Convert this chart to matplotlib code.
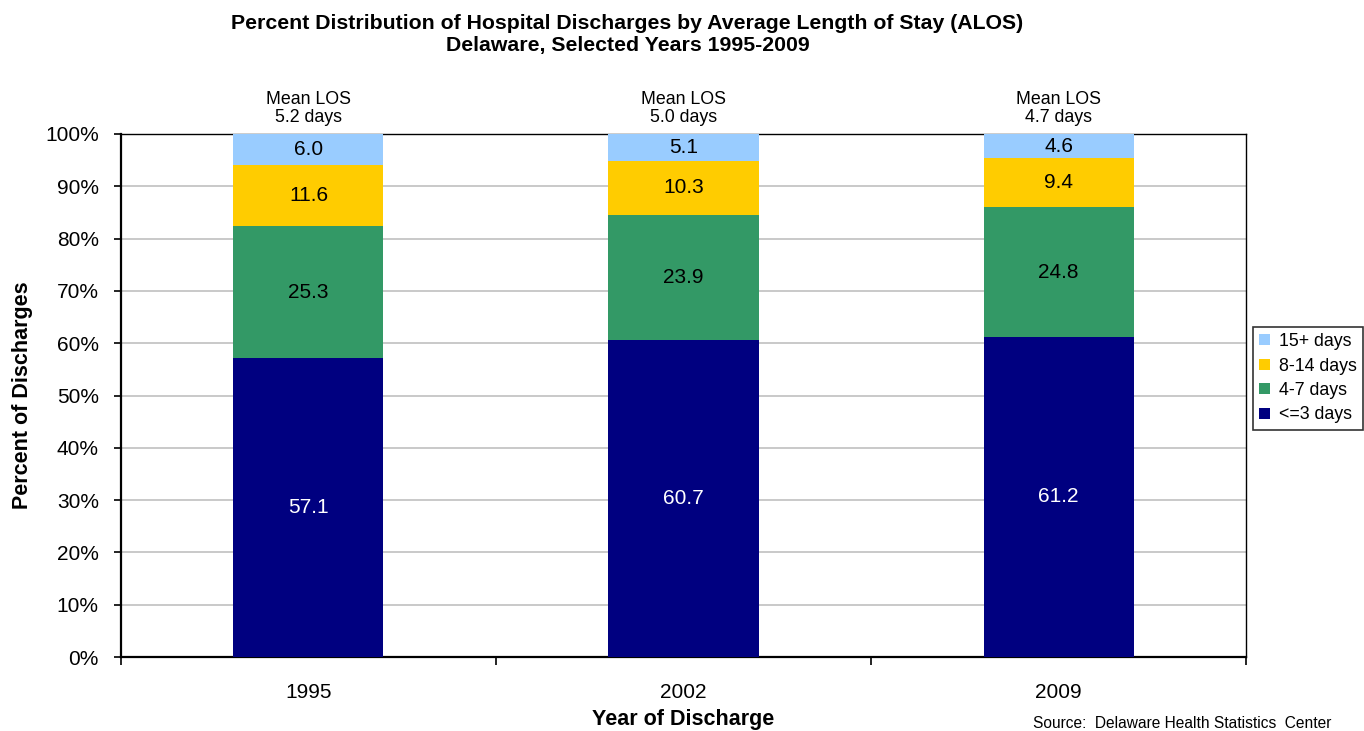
import matplotlib.pyplot as plt
from matplotlib.font_manager import fontManager

# Data
years = ['1995', '2002', '2009']
mean_los = ['5.2', '5.0', '4.7']
le3_days = [57.1, 60.7, 61.2]
d4_7_days = [25.3, 23.9, 24.8]
d8_14_days = [11.6, 10.3, 9.4]
d15_days = [6.0, 5.1, 4.6]

series = [
    ('<=3 days', le3_days, '#000080', 'white'),
    ('4-7 days', d4_7_days, '#339966', 'black'),
    ('8-14 days', d8_14_days, '#FFCC00', 'black'),
    ('15+ days', d15_days, '#99CCFF', 'black'),
]

names = {f.name for f in fontManager.ttflist}
base_font = 'Liberation Sans' if 'Liberation Sans' in names else 'DejaVu Sans'
title_font = 'Liberation Sans Narrow' if 'Liberation Sans Narrow' in names else base_font
plt.rcParams['font.family'] = [base_font, 'DejaVu Sans']

fig = plt.figure(figsize=(13.64, 7.31), dpi=100)
ax = fig.add_axes([0.0887, 0.1012, 0.8248, 0.7155])

x = list(range(len(years)))
bottoms = [0.0] * len(years)
handles = []
for label, vals, color, txt_color in series:
    bars = ax.bar(x, vals, width=0.4, bottom=bottoms, color=color, label=label, zorder=3)
    handles.append(bars)
    for xi, v, b in zip(x, vals, bottoms):
        ax.text(xi, b + v / 2, f'{v:.1f}', ha='center', va='center',
                fontsize=15, color=txt_color, zorder=4)
    bottoms = [b + v for b, v in zip(bottoms, vals)]

# Mean LOS annotation above each bar
for xi, m in zip(x, mean_los):
    ax.text(xi, 101.6, f'Mean LOS\n{m} days', ha='center', va='bottom',
            fontsize=12.8, linespacing=1.05)

ax.set_xlim(-0.5, 2.5)
ax.set_ylim(0, 100)
ax.set_yticks(range(0, 101, 10))
ax.set_yticklabels([f'{t}%' for t in range(0, 101, 10)], fontsize=15)
ax.set_xticks(x)
ax.set_xticklabels(years, fontsize=15)
ax.set_xticks([-0.5, 0.5, 1.5, 2.5], minor=True)
ax.tick_params(axis='x', which='major', length=0, pad=19)
ax.tick_params(axis='x', which='minor', length=6, width=1.2, direction='out')
ax.tick_params(axis='y', length=5, width=1.2, direction='out', pad=11)

ax.grid(True, axis='y', color='#C0C0C0', linewidth=1.2, zorder=0)
for side in ['left', 'bottom']:
    ax.spines[side].set_linewidth(1.6)
for side in ['top', 'right']:
    ax.spines[side].set_linewidth(1.0)

ax.set_ylabel('Percent of Discharges', fontsize=15.5, fontweight='bold', labelpad=9)
ax.set_xlabel('Year of Discharge', fontsize=15.5, fontweight='bold', labelpad=5)

fig.text(0.46, 0.981, 'Percent Distribution of Hospital Discharges by Average Length of Stay (ALOS)\n'
         'Delaware, Selected Years 1995-2009', ha='center', va='top',
         fontsize=15.3, fontweight='bold', family=[title_font, 'DejaVu Sans'], linespacing=1.22)

fig.text(0.976, 0.0, 'Source:  Delaware Health Statistics  Center', ha='right',
         va='bottom', fontsize=11.2)

leg = ax.legend(handles[::-1], [s[0] for s in series][::-1], loc='center left',
                bbox_to_anchor=(1.006, 0.533), fontsize=12.8, frameon=True, fancybox=False,
                handlelength=0.6, handleheight=0.6, handletextpad=0.5,
                labelspacing=0.42, borderpad=0.35, borderaxespad=0)
leg.get_frame().set_edgecolor('black')
leg.get_frame().set_linewidth(1.2)

fig.savefig('out.png', dpi=100)
